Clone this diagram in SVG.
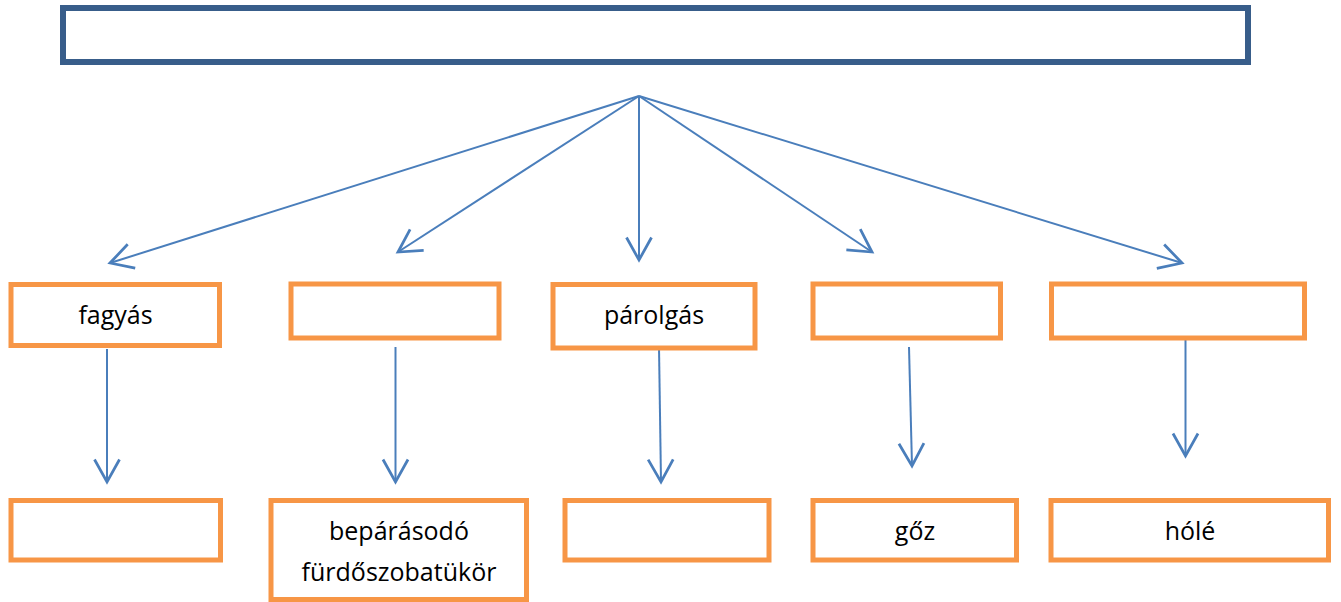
<svg xmlns="http://www.w3.org/2000/svg" width="1341" height="602" viewBox="0 0 1341 602">
  <style>
    .title { fill: #ffffff; stroke: #385D8A; stroke-width: 6; }
    .box { fill: #ffffff; stroke: #F79646; stroke-width: 5; }
    .conn { fill: none; stroke: #4A7EBB; stroke-width: 2; marker-end: url(#arrow); }
    .lbl { font-family: "Open Sans", "Noto Sans", "Liberation Sans", sans-serif; font-size: 25px; fill: #000000; text-anchor: middle; }
  </style>
  <defs>
    <marker id="arrow" markerUnits="userSpaceOnUse" markerWidth="30" markerHeight="30" refX="0" refY="0" viewBox="-20 -12 22 24" orient="auto" overflow="visible">
      <path d="M-18,-10 L0,0 L-18,10" fill="none" stroke="#4A7EBB" stroke-width="2.2" stroke-linejoin="miter"/>
    </marker>
  </defs>
  <rect width="1341" height="602" fill="#ffffff"/>

  <g id="top">
    <rect class="title" x="63" y="8" width="1185" height="54"/>
  </g>

  <g id="connectors">
    <line class="conn" x1="639" y1="96" x2="110" y2="263"/>
    <line class="conn" x1="639" y1="96" x2="398" y2="252"/>
    <line class="conn" x1="639" y1="96" x2="639" y2="260"/>
    <line class="conn" x1="639" y1="96" x2="872" y2="252"/>
    <line class="conn" x1="639" y1="96" x2="1182" y2="263"/>
    <line class="conn" x1="107" y1="349" x2="107" y2="482"/>
    <line class="conn" x1="395.5" y1="347" x2="395.5" y2="482"/>
    <line class="conn" x1="659" y1="347" x2="661" y2="482"/>
    <line class="conn" x1="909" y1="347" x2="912" y2="466"/>
    <line class="conn" x1="1185.5" y1="338" x2="1185.5" y2="456"/>
  </g>

  <g id="n1">
    <rect class="box" x="11" y="284.5" width="208.5" height="61"/>
    <text class="lbl" x="115.5" y="324">fagyás</text>
  </g>
  <g id="n2">
    <rect class="box" x="291" y="284" width="208" height="54"/>
  </g>
  <g id="n3">
    <rect class="box" x="553" y="284.5" width="202" height="63.5"/>
    <text class="lbl" x="654" y="324">párolgás</text>
  </g>
  <g id="n4">
    <rect class="box" x="813" y="284" width="187.5" height="54"/>
  </g>
  <g id="n5">
    <rect class="box" x="1051.5" y="284" width="253" height="54"/>
  </g>

  <g id="b1">
    <rect class="box" x="11" y="500.5" width="209.5" height="59.5"/>
  </g>
  <g id="b2">
    <rect class="box" x="271" y="500.5" width="255.5" height="99"/>
    <text class="lbl" x="399" y="540">bepárásodó</text>
    <text class="lbl" x="399" y="580.5">fürdőszobatükör</text>
  </g>
  <g id="b3">
    <rect class="box" x="565" y="500.5" width="204" height="59.5"/>
  </g>
  <g id="b4">
    <rect class="box" x="813" y="500.5" width="203.5" height="59.5"/>
    <text class="lbl" x="915" y="540">gőz</text>
  </g>
  <g id="b5">
    <rect class="box" x="1051" y="500.5" width="277.5" height="59.5"/>
    <text class="lbl" x="1190" y="540">hólé</text>
  </g>
</svg>
